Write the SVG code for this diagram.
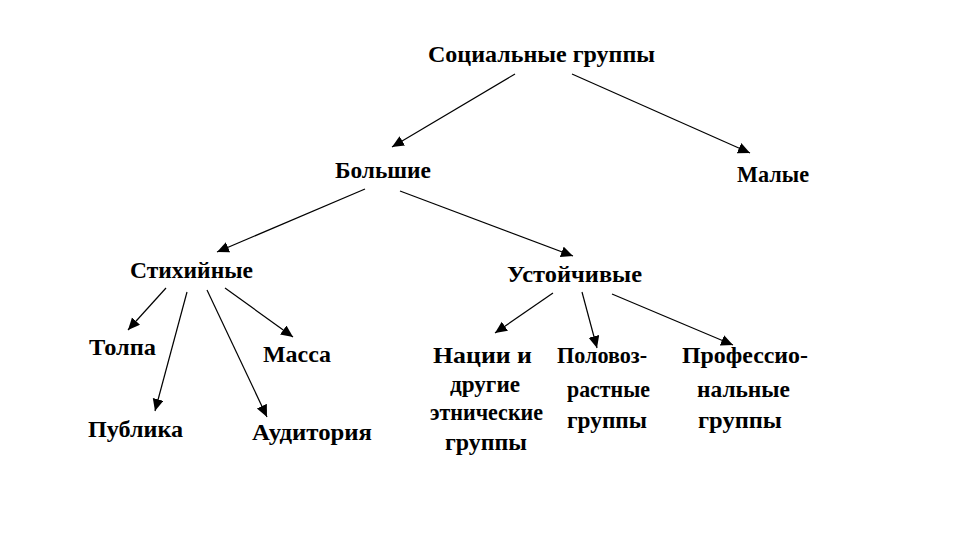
<svg xmlns="http://www.w3.org/2000/svg" width="960" height="540" viewBox="0 0 960 540">
<style>
text{font-family:"Liberation Serif","DejaVu Serif",serif;font-weight:bold;font-size:23px;fill:#000}
.c{stroke:#000;stroke-width:1.2;fill:none}
</style>
<defs>
<marker id="ah" markerUnits="userSpaceOnUse" markerWidth="14" markerHeight="12" refX="12" refY="5.5" orient="auto">
<path d="M0,0 L12,5.5 L0,11 Z" fill="#000"/>
</marker>
</defs>
<rect width="960" height="540" fill="#fff"/>
<g id="connectors">
<line class="c" x1="515" y1="74" x2="392" y2="147" marker-end="url(#ah)"/>
<line class="c" x1="572" y1="74" x2="750" y2="153" marker-end="url(#ah)"/>
<line class="c" x1="365" y1="189" x2="217" y2="252" marker-end="url(#ah)"/>
<line class="c" x1="400" y1="191" x2="573" y2="256" marker-end="url(#ah)"/>
<line class="c" x1="166" y1="288" x2="128" y2="330" marker-end="url(#ah)"/>
<line class="c" x1="187" y1="292" x2="155" y2="411" marker-end="url(#ah)"/>
<line class="c" x1="207" y1="290" x2="267" y2="417" marker-end="url(#ah)"/>
<line class="c" x1="225" y1="288" x2="293" y2="337" marker-end="url(#ah)"/>
<line class="c" x1="553" y1="293" x2="495" y2="333" marker-end="url(#ah)"/>
<line class="c" x1="582" y1="292" x2="597" y2="348" marker-end="url(#ah)"/>
<line class="c" x1="612" y1="294" x2="733" y2="345" marker-end="url(#ah)"/>
</g>
<g id="n-social"><text x="428" y="62" textLength="227" lengthAdjust="spacingAndGlyphs">Социальные группы</text></g>
<g id="n-big"><text x="335" y="178" textLength="96" lengthAdjust="spacingAndGlyphs">Большие</text></g>
<g id="n-small"><text x="737" y="182" textLength="72" lengthAdjust="spacingAndGlyphs">Малые</text></g>
<g id="n-spont"><text x="130" y="278" textLength="123" lengthAdjust="spacingAndGlyphs">Стихийные</text></g>
<g id="n-stable"><text x="507" y="282" textLength="135" lengthAdjust="spacingAndGlyphs">Устойчивые</text></g>
<g id="n-crowd"><text x="89" y="355" textLength="67" lengthAdjust="spacingAndGlyphs">Толпа</text></g>
<g id="n-mass"><text x="263" y="362" textLength="68" lengthAdjust="spacingAndGlyphs">Масса</text></g>
<g id="n-public"><text x="88" y="437" textLength="95" lengthAdjust="spacingAndGlyphs">Публика</text></g>
<g id="n-audience"><text x="252" y="440" textLength="120" lengthAdjust="spacingAndGlyphs">Аудитория</text></g>
<g id="n-nations">
<text x="433" y="363" textLength="99" lengthAdjust="spacingAndGlyphs">Нации и</text>
<text x="450" y="392" textLength="70" lengthAdjust="spacingAndGlyphs">другие</text>
<text x="430" y="420" textLength="113" lengthAdjust="spacingAndGlyphs">этнические</text>
<text x="445" y="450" textLength="82" lengthAdjust="spacingAndGlyphs">группы</text>
</g>
<g id="n-sexage">
<text x="557" y="363" textLength="90" lengthAdjust="spacingAndGlyphs">Половоз-</text>
<text x="567" y="397" textLength="83" lengthAdjust="spacingAndGlyphs">растные</text>
<text x="567" y="428" textLength="80" lengthAdjust="spacingAndGlyphs">группы</text>
</g>
<g id="n-prof">
<text x="682" y="363" textLength="126" lengthAdjust="spacingAndGlyphs">Профессио-</text>
<text x="697" y="397" textLength="93" lengthAdjust="spacingAndGlyphs">нальные</text>
<text x="698" y="428" textLength="84" lengthAdjust="spacingAndGlyphs">группы</text>
</g>
</svg>
